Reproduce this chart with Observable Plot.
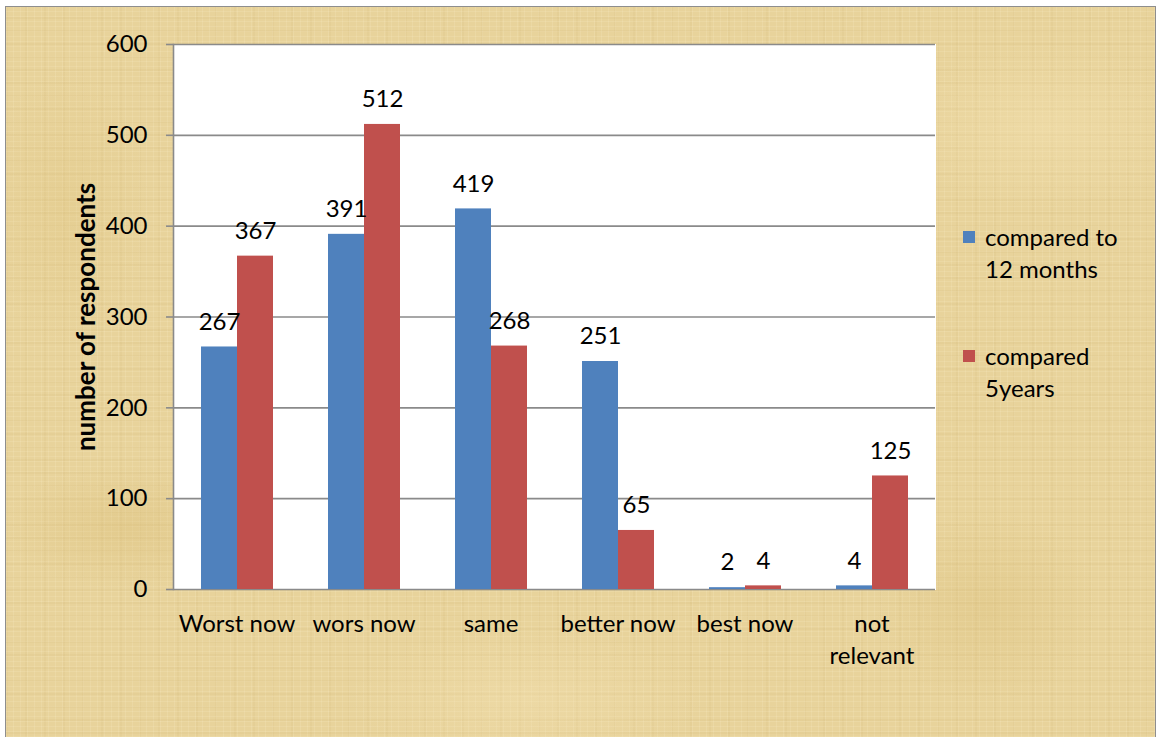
<!DOCTYPE html>
<html>
<head>
<meta charset="utf-8">
<script src="https://cdn.jsdelivr.net/npm/d3@7"></script>
<script src="https://cdn.jsdelivr.net/npm/@observablehq/plot@0.6"></script>
<style>
  html, body { margin: 0; padding: 0; background: #ffffff; }
  #page { position: relative; width: 1161px; height: 737px; overflow: hidden; }
  #paper {
    position: absolute; left: 5px; top: 6px; width: 1149px; height: 740px;
    border: 1.5px solid #8e8e8e;
    background-color: #e8d39b;
    background-image:
      radial-gradient(ellipse 180px 90px at 120px 520px, rgba(214,184,110,0.30), transparent 70%),
      radial-gradient(ellipse 220px 120px at 1040px 120px, rgba(246,228,180,0.40), transparent 70%),
      radial-gradient(ellipse 160px 140px at 980px 600px, rgba(212,182,108,0.25), transparent 70%),
      radial-gradient(ellipse 260px 100px at 520px 690px, rgba(246,228,182,0.35), transparent 70%),
      radial-gradient(ellipse 120px 200px at 60px 200px, rgba(220,192,120,0.25), transparent 70%),
      repeating-linear-gradient(0deg, rgba(255,245,215,0.14) 0px, rgba(255,245,215,0.14) 1px, transparent 1px, transparent 5px),
      repeating-linear-gradient(0deg, rgba(190,160,90,0.08) 0px, rgba(190,160,90,0.08) 2px, transparent 2px, transparent 13px),
      repeating-linear-gradient(90deg, rgba(255,245,215,0.14) 0px, rgba(255,245,215,0.14) 1px, transparent 1px, transparent 7px),
      repeating-linear-gradient(90deg, rgba(190,160,90,0.08) 0px, rgba(190,160,90,0.08) 2px, transparent 2px, transparent 19px);
  }
  #chart { position: absolute; left: 0; top: 0; }
  #chart g[aria-label="y-axis label"] text { font-weight: bold; font-size: 26px; }
  #legend {
    position: absolute; left: 963px; top: 221px;
    font-family: Lato, sans-serif; font-size: 24px; line-height: 32px; color: #000;
  }
  .entry { position: relative; padding-left: 22px; margin-bottom: 55px; }
  .swatch { position: absolute; left: 0; top: 10px; width: 12px; height: 12px; }
</style>
</head>
<body>
<div id="page">
  <div id="paper"></div>
  <div id="chart"></div>
  <div id="legend"></div>
</div>
<script>
// Survey responses: how conditions compare now versus earlier
const categories = ["Worst now", "wors now", "same", "better now", "best now", "not relevant"];
const seriesNames = ["compared to 12 months", "compared 5years"];
const legendLines = [["compared to", "12 months"], ["compared", "5years"]];
const months12 = [267, 391, 419, 251, 2, 4];
const years5 = [367, 512, 268, 65, 4, 125];
const yTicks = [0, 100, 200, 300, 400, 500, 600];
const seriesColors = ["#4f81bd", "#c0504d"];

const rows = categories.flatMap((cat, i) => [
  {cat, series: seriesNames[0], value: months12[i]},
  {cat, series: seriesNames[1], value: years5[i]}
]);

const axisGrey = "#8a8a8a";

const chart = Plot.plot({
  width: 1161,
  height: 737,
  marginLeft: 172,
  marginRight: 226,
  marginTop: 44,
  marginBottom: 148,
  style: {fontFamily: "Lato, sans-serif", fontSize: "24px", color: "#000", background: "transparent", overflow: "visible"},
  fx: {domain: categories, padding: 0, label: null},
  x: {domain: seriesNames, paddingInner: 0, paddingOuter: 0.75, axis: null},
  y: {domain: [0, 600], ticks: yTicks},
  color: {domain: seriesNames, range: seriesColors},
  marks: [
    // white plot area; stroke closes the seams between facet panels
    Plot.frame({fill: "white", stroke: "white", strokeWidth: 1}),
    Plot.ruleY(yTicks, {stroke: axisGrey, strokeWidth: 1.6}),
    Plot.frame({anchor: "left", facetAnchor: "left", stroke: axisGrey, strokeWidth: 1.6}),
    Plot.barY(rows, {fx: "cat", x: "series", y: "value", fill: "series"}),
    Plot.text(rows, {fx: "cat", x: "series", y: "value", text: d => String(d.value), dy: -25, fill: "#000"}),
    Plot.axisY({
      ticks: yTicks, tickSize: 7, tickPadding: 19, stroke: axisGrey, strokeWidth: 1.6,
      label: "number of respondents", labelAnchor: "center", labelArrow: false, labelOffset: 97
    }),
    Plot.axisFx({
      anchor: "bottom", tickSize: 0, tickPadding: 19, label: null, lineHeight: 1.35,
      tickFormat: d => d === "not relevant" ? "not\nrelevant" : d
    })
  ]
});
document.getElementById("chart").appendChild(chart);

// legend
const legend = d3.select("#legend");
seriesNames.forEach((name, i) => {
  const e = legend.append("div").attr("class", "entry");
  e.append("div").attr("class", "swatch").style("background", seriesColors[i]);
  e.append("div").html(legendLines[i].join("<br>"));
});
</script>
</body>
</html>
